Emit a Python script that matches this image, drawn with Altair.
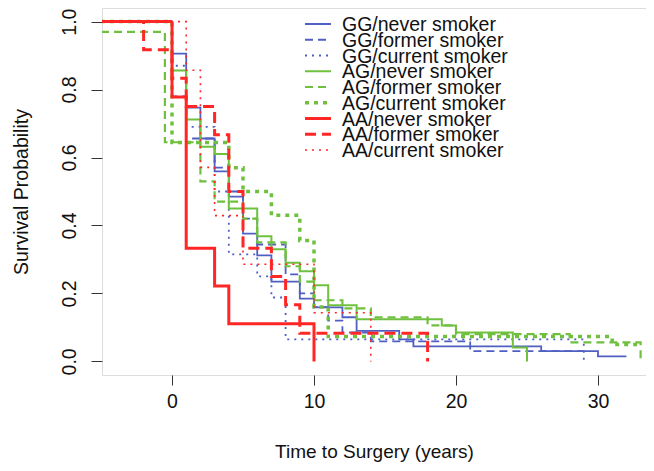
import altair as alt
import pandas as pd

groups = ["GG/never smoker", "GG/former smoker", "GG/current smoker",
          "AG/never smoker", "AG/former smoker", "AG/current smoker",
          "AA/never smoker", "AA/former smoker", "AA/current smoker"]

# step times (years) and survival values after each step
gg_never_t = [-5, 0, 1, 2, 3, 4, 5, 6, 7, 9, 10, 12, 13, 16, 17, 26, 30]
gg_never_s = [1.0, 0.906, 0.747, 0.656, 0.559, 0.485, 0.376, 0.312, 0.235, 0.185, 0.159, 0.13, 0.09, 0.065, 0.044, 0.03, 0.015]
gg_never_end = 32

gg_former_t = [-5, 0, 1, 3, 4, 5, 6, 8, 9, 10, 11, 12, 14, 21]
gg_former_s = [1.0, 0.78, 0.656, 0.57, 0.5, 0.42, 0.344, 0.256, 0.2, 0.16, 0.12, 0.085, 0.059, 0.03]
gg_former_end = 29

gg_current_t = [-5, 0, 1, 3, 4, 6, 7, 8, 29]
gg_current_s = [1.0, 0.87, 0.69, 0.5, 0.315, 0.25, 0.188, 0.065, 0.0]
gg_current_end = 29

ag_never_t = [-5, 0, 1, 2, 3, 4, 6, 7, 8, 9, 10, 11, 13, 19, 20, 24, 25]
ag_never_s = [1.0, 0.856, 0.712, 0.632, 0.61, 0.45, 0.368, 0.33, 0.29, 0.265, 0.224, 0.165, 0.124, 0.106, 0.085, 0.041, 0.0]
ag_never_end = 25

ag_former_t = [-5, -0.5, 2, 3, 5, 6, 8, 9, 10, 12, 14, 18, 20, 28, 33]
ag_former_s = [0.97, 0.645, 0.53, 0.47, 0.42, 0.35, 0.28, 0.235, 0.18, 0.156, 0.13, 0.106, 0.08, 0.056, 0.0]
ag_former_end = 33

ag_current_t = [-5, 0, 4, 5, 7, 9, 10, 11, 31]
ag_current_s = [1.0, 0.644, 0.57, 0.5, 0.43, 0.356, 0.16, 0.073, 0.05]
ag_current_end = 33

aa_never_t = [-5, 0, 1, 3, 4, 10]
aa_never_s = [1.0, 0.778, 0.333, 0.222, 0.111, 0.0]
aa_never_end = 10

aa_former_t = [-5, -2, 0, 1, 3, 4, 5, 7, 8, 9, 18]
aa_former_s = [1.0, 0.917, 0.833, 0.75, 0.667, 0.5, 0.333, 0.25, 0.167, 0.083, 0.0]
aa_former_end = 18

aa_current_t = [-5, 1, 2, 3, 5, 10, 14]
aa_current_s = [1.0, 0.857, 0.571, 0.429, 0.286, 0.143, 0.0]
aa_current_end = 14

series = [
    (gg_never_t, gg_never_s, gg_never_end),
    (gg_former_t, gg_former_s, gg_former_end),
    (gg_current_t, gg_current_s, gg_current_end),
    (ag_never_t, ag_never_s, ag_never_end),
    (ag_former_t, ag_former_s, ag_former_end),
    (ag_current_t, ag_current_s, ag_current_end),
    (aa_never_t, aa_never_s, aa_never_end),
    (aa_former_t, aa_former_s, aa_former_end),
    (aa_current_t, aa_current_s, aa_current_end),
]

colors = ["#4f5fc2", "#4f5fc2", "#4f5fc2",
          "#6fc03f", "#6fc03f", "#6fc03f",
          "#ff2626", "#ff2626", "#ff2626"]
dashes = [[1, 0], [8, 5], [2, 5],
          [1, 0], [8, 5], [4, 5],
          [1, 0], [11, 6], [2, 5]]
widths = [1.8, 1.8, 1.8, 2.0, 2.2, 3.5, 3.0, 3.0, 1.6]

rows = []
for g, (ts, ss, end) in zip(groups, series):
    for k, (t, s) in enumerate(zip(ts, ss)):
        rows.append({"group": g, "time": t, "surv": s, "k": k})
    rows.append({"group": g, "time": end, "surv": ss[-1], "k": len(ts)})
df = pd.DataFrame(rows)

legend_df = pd.DataFrame({"group": groups, "idx": list(range(len(groups)))})

FONT = "Liberation Sans"

color_enc = alt.Color("group:N", sort=groups,
                      scale=alt.Scale(domain=groups, range=colors), legend=None)
dash_enc = alt.StrokeDash("group:N", sort=groups,
                          scale=alt.Scale(domain=groups, range=dashes), legend=None)
width_enc = alt.StrokeWidth("group:N", sort=groups,
                            scale=alt.Scale(type="ordinal", domain=groups, range=widths),
                            legend=None)

lines = alt.Chart(df).mark_line(interpolate="step-after", clip=True).encode(
    x=alt.X("time:Q",
            scale=alt.Scale(domain=[-4.93, 33.38], nice=False, zero=False),
            axis=alt.Axis(values=[0, 10, 20, 30], title="Time to Surgery (years)",
                          grid=False, domain=False, tickSize=10, tickColor="#333333",
                          labelFontSize=19.5, labelPadding=7, labelFont=FONT,
                          labelColor="#111111", titleFont=FONT, titleFontSize=19,
                          titleFontWeight="normal", titlePadding=32, titleColor="#111111")),
    y=alt.Y("surv:Q",
            scale=alt.Scale(domain=[-0.04, 1.04], nice=False, zero=False),
            axis=alt.Axis(values=[0, 0.2, 0.4, 0.6, 0.8, 1.0], format=".1f",
                          title="Survival Probability", grid=False, domain=False,
                          tickSize=11, tickColor="#333333", labelAngle=270,
                          labelAlign="center", labelBaseline="bottom",
                          labelFontSize=19.5, labelPadding=12, labelFont=FONT,
                          labelColor="#111111", titleFont=FONT, titleFontSize=19.5,
                          titleFontWeight="normal", titlePadding=28, titleColor="#111111")),
    order=alt.Order("k:Q"),
    color=color_enc,
    strokeDash=dash_enc,
    strokeWidth=width_enc,
)

leg_y = alt.Y("idx:Q", scale=alt.Scale(domain=[0, 8], range=[16, 142]), axis=None)

legend_lines = alt.Chart(legend_df).mark_rule().encode(
    x=alt.value(203), x2=alt.value(229),
    y=leg_y,
    color=color_enc,
    strokeDash=dash_enc,
    strokeWidth=width_enc,
)

legend_text = alt.Chart(legend_df).mark_text(
    align="left", baseline="middle", font=FONT, fontSize=19.5, color="#111111", dy=1
).encode(
    x=alt.value(240),
    y=leg_y,
    text="group:N",
)

chart = alt.layer(lines, legend_lines, legend_text).resolve_scale(
    y="independent"
).properties(
    width=544, height=367,
    autosize=alt.AutoSizeParams(type="none"),
    padding={"left": 94, "top": 0, "right": 0, "bottom": 88},
).configure_view(stroke="#333333", strokeWidth=1.5).configure(background="white")

chart.save("out.html", embed_options={"renderer": "svg", "actions": False})
